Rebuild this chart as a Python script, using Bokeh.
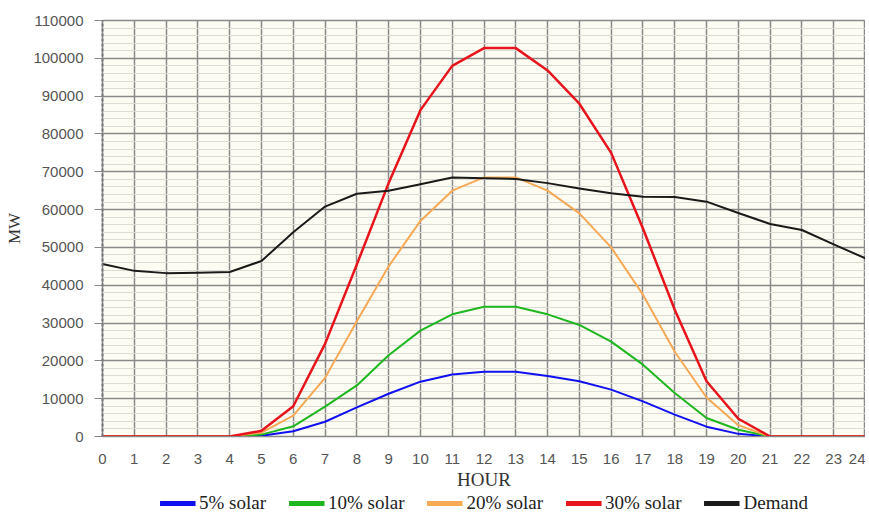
from bokeh.plotting import figure
from bokeh.layouts import column
from bokeh.models import SingleIntervalTicker, FixedTicker, Legend, LegendItem, BasicTickFormatter
from bokeh.embed import file_html
from bokeh.resources import INLINE

hours = list(range(0, 25))
solar_5 = [0, 0, 0, 0, 0, 200, 1400, 3900, 7700, 11300, 14500, 16400, 17100, 17100, 16000, 14600, 12400, 9300, 5800, 2600, 700, 0, 0, 0, 0]
solar_10 = [0, 0, 0, 0, 0, 500, 2700, 7900, 13500, 21500, 28000, 32300, 34300, 34300, 32300, 29500, 25100, 19000, 11500, 4900, 1800, 0, 0, 0, 0]
solar_20 = [0, 0, 0, 0, 0, 1000, 5500, 15500, 30500, 45000, 57000, 65000, 68500, 68500, 65000, 59000, 50000, 37500, 22400, 10300, 3000, 0, 0, 0, 0]
solar_30 = [0, 0, 0, 0, 0, 1500, 8000, 24500, 45500, 67000, 86300, 98000, 102700, 102700, 96800, 88000, 75000, 55000, 33500, 14600, 4700, 0, 0, 0, 0]
demand = [45600, 43800, 43200, 43300, 43500, 46400, 54000, 60800, 64200, 65000, 66700, 68500, 68300, 68100, 67000, 65600, 64300, 63400, 63300, 62100, 59100, 56200, 54600, 50800, 47100]

series = [
    ("5% solar", solar_5, "#1010f0"),
    ("10% solar", solar_10, "#1fb71f"),
    ("20% solar", solar_20, "#f7a955"),
    ("30% solar", solar_30, "#e8141c"),
    ("Demand", demand, "#1a1a1a"),
]

W = 865
p = figure(width=W, height=492, output_backend="svg", toolbar_location=None,
           x_range=(0, 24), y_range=(0, 110000),
           min_border_left=102, min_border_right=0, min_border_top=20, min_border_bottom=55)
p.border_fill_color = "#ffffff"
p.background_fill_color = "#fdfcf3"
p.outline_line_color = "#8a8a8a"
p.outline_line_width = 1.5

p.yaxis.ticker = SingleIntervalTicker(interval=10000, num_minor_ticks=5)
p.yaxis.formatter = BasicTickFormatter(use_scientific=False)
p.xaxis.ticker = FixedTicker(ticks=hours)

p.xgrid.grid_line_color = "#8a8a8a"
p.xgrid.grid_line_width = 1.5
p.ygrid.grid_line_color = "#8a8a8a"
p.ygrid.grid_line_width = 1.5
p.ygrid.minor_grid_line_color = "#dcdcd4"
p.ygrid.minor_grid_line_width = 1

p.yaxis.axis_line_color = "#777777"
p.yaxis.axis_line_dash = "3 2"
p.yaxis.axis_line_width = 2
p.yaxis.major_tick_out = 8
p.yaxis.major_tick_in = 0
p.yaxis.major_tick_line_color = "#888888"
p.yaxis.minor_tick_line_color = None
p.yaxis.major_label_standoff = 11
p.yaxis.major_label_text_font = "Liberation Sans"
p.yaxis.major_label_text_font_size = "15px"
p.yaxis.major_label_text_color = "#555555"
p.yaxis.axis_label = "MW"
p.yaxis.axis_label_text_font = "Liberation Serif"
p.yaxis.axis_label_text_font_style = "normal"
p.yaxis.axis_label_text_font_size = "17px"
p.yaxis.axis_label_text_color = "#333333"
p.yaxis.axis_label_standoff = 6

p.xaxis.axis_line_color = "#888888"
p.xaxis.major_tick_line_color = None
p.xaxis.minor_tick_line_color = None
p.xaxis.major_label_standoff = 11
p.xaxis.major_label_text_font = "Liberation Sans"
p.xaxis.major_label_text_font_size = "15px"
p.xaxis.major_label_text_color = "#555555"
p.xaxis.axis_label = "HOUR"
p.xaxis.axis_label_text_font = "Liberation Serif"
p.xaxis.axis_label_text_font_style = "normal"
p.xaxis.axis_label_text_font_size = "19px"
p.xaxis.axis_label_text_color = "#333333"
p.xaxis.axis_label_standoff = 2

for name, vals, color in series:
    p.line(hours, vals, line_color=color, line_width=2.5 if name == "30% solar" else 2, line_join="round")

# legend strip: same series drawn outside its visible range, only the legend shows
lg = figure(width=W, height=22, output_backend="svg", toolbar_location=None,
            x_range=(100, 101), y_range=(0, 1), x_axis_location=None, y_axis_location=None,
            min_border=0)
lg.outline_line_color = None
lg.background_fill_color = "#ffffff"
lg.border_fill_color = "#ffffff"
lg.xgrid.visible = False
lg.ygrid.visible = False
items = []
for name, vals, color in series:
    r = lg.line(hours, vals, line_color=color, line_width=5)
    items.append(LegendItem(label=name, renderers=[r]))

legend = Legend(items=items, orientation="horizontal", location="center",
                glyph_width=36, glyph_height=16, label_standoff=4, spacing=22,
                padding=0, margin=0, border_line_color=None, background_fill_alpha=0,
                label_text_font="Liberation Serif", label_text_font_size="19px",
                label_text_color="#222222")
lg.add_layout(legend, "center")

layout = column(p, lg, spacing=0)
html = file_html(layout, INLINE)
open("out.html", "w").write(html)
